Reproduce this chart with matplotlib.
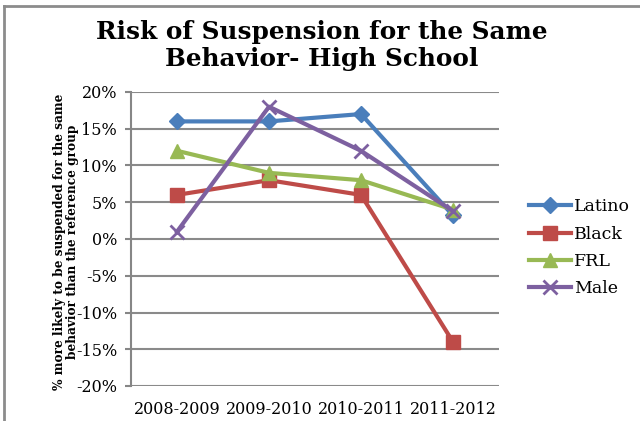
import matplotlib
matplotlib.use("Agg")
import matplotlib.pyplot as plt
from matplotlib.lines import Line2D

# Data
years = ["2008-2009", "2009-2010", "2010-2011", "2011-2012"]
latino = [16, 16, 17, 3.2]
black = [6, 8, 6, -14]
frl = [12, 9, 8, 4]
male = [1, 18, 12, 3.8]
y_ticks = [-20, -15, -10, -5, 0, 5, 10, 15, 20]

plt.rcParams['font.family'] = ['DejaVu Serif']

fig = plt.figure(figsize=(6.4, 4.21), dpi=100)
ax = fig.add_axes([131 / 640, 1 - 386 / 421, 368 / 640, 294 / 421])

x = range(len(years))
ax.plot(x, latino, color='#4a7ebb', lw=3, marker='D', ms=8, label='Latino', zorder=3)
ax.plot(x, black, color='#be4b48', lw=3, marker='s', ms=10, label='Black', zorder=3)
ax.plot(x, frl, color='#98b954', lw=3, marker='^', ms=10, label='FRL', zorder=3)
ax.plot(x, male, color='#7d60a0', lw=3, marker='x', ms=10, mew=2, label='Male', zorder=4)

ax.set_xlim(-0.5, 3.5)
ax.set_ylim(-20, 20)
ax.set_xticks(list(x))
ax.set_xticklabels(years, fontsize=11.5)
ax.set_yticks(y_ticks)
ax.set_yticklabels([f"{v}%" for v in y_ticks], fontsize=11.5)
ax.tick_params(axis='x', length=0, pad=11)
ax.tick_params(axis='y', length=4, color='#868686', width=1.5, pad=6)
ax.grid(axis='y', color='#8a8a8a', lw=1.5)
ax.set_axisbelow(True)
for side in ['top', 'right', 'bottom']:
    ax.spines[side].set_visible(False)
ax.spines['left'].set_color('#868686')
ax.spines['left'].set_linewidth(1.5)

ax.set_ylabel("% more likely to be suspended for the same\nbehavior than the reference group",
              fontsize=8.7, fontweight='bold', linespacing=1.05)
ax.yaxis.set_label_coords(-0.141, 0.49)

fig.text(0.503, 0.891, "Risk of Suspension for the Same\nBehavior- High School",
         ha='center', va='center', fontsize=17.8, fontweight='bold', linespacing=1.15)

ax.legend(loc='center left', bbox_to_anchor=(1.04, 0.47), frameon=False,
          fontsize=12.5, handlelength=2.4, labelspacing=0.6, handletextpad=0.2)

# outer frame (top and left edges only)
fig.add_artist(Line2D([4 / 640, 1], [1 - 6 / 421, 1 - 6 / 421], color='#8c8c8c', lw=2,
                      transform=fig.transFigure))
fig.add_artist(Line2D([4 / 640, 4 / 640], [0, 1 - 6 / 421], color='#8c8c8c', lw=2,
                      transform=fig.transFigure))

fig.savefig("out.png", dpi=100)
